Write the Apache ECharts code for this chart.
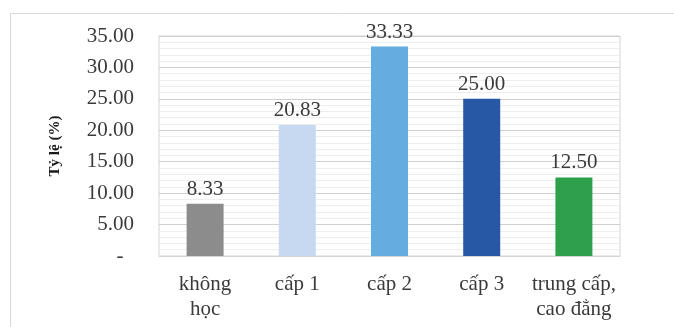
<!DOCTYPE html>
<html>
<head>
<meta charset="utf-8">
<script src="https://cdn.jsdelivr.net/npm/echarts@6/dist/echarts.min.js"></script>
<style>
  html, body { margin: 0; padding: 0; background: #fff; }
  #chart { width: 674px; height: 327px; }
</style>
</head>
<body>
<div id="chart"></div>
<script>
// Education level shares (%)
const categories = ['không\nhọc', 'cấp 1', 'cấp 2', 'cấp 3', 'trung cấp,\ncao đẳng'];
const shares = [8.33, 20.83, 33.33, 25.00, 12.50];
const yTicks = [0, 5, 10, 15, 20, 25, 30, 35];

const barColors = ['#8c8c8c', '#c6d9f0', '#63ade0', '#2658a6', '#2ea04b'];
const serif = '"Liberation Serif", "Times New Roman", serif';
const textColor = '#3a3a3a';

const chart = echarts.init(document.getElementById('chart'), null, { renderer: 'canvas' });

chart.setOption({
  animation: false,
  textStyle: { fontFamily: serif },
  graphic: [{
    type: 'rect',
    shape: { x: 10.5, y: 13.5, width: 700, height: 400 },
    style: { fill: 'none', stroke: '#d9d9d9', lineWidth: 1 },
    silent: true,
    z: -1
  }],
  grid: {
    left: 159, right: 54, top: 36, bottom: 71,
    show: true, borderColor: '#d4d4d4', borderWidth: 1
  },
  xAxis: {
    type: 'category',
    data: categories,
    axisLine: { show: true, lineStyle: { color: '#d4d4d4' } },
    axisTick: { show: false },
    axisLabel: {
      color: textColor, fontFamily: serif, fontSize: 21,
      lineHeight: 25, margin: 16, interval: 0
    }
  },
  yAxis: {
    type: 'value',
    min: yTicks[0],
    max: yTicks[yTicks.length - 1],
    interval: yTicks[1] - yTicks[0],
    name: 'Tỷ lệ (%)',
    nameLocation: 'middle',
    nameRotate: 90,
    nameGap: 96,
    nameTextStyle: { color: '#1a1a1a', fontFamily: serif, fontSize: 15, fontWeight: 'bold' },
    axisLine: { show: false },
    axisTick: { show: false },
    axisLabel: {
      color: textColor, fontFamily: serif, fontSize: 21, margin: 25,
      formatter: v => (v === 0 ? '-  ' : v.toFixed(2))
    },
    splitLine: { show: true, lineStyle: { color: '#d0d0d0', width: 1 } },
    minorTick: { show: false, splitNumber: 5 },
    minorSplitLine: { show: true, lineStyle: { color: '#eeeeee', width: 1 } }
  },
  series: [{
    type: 'bar',
    barWidth: 37,
    data: shares.map((v, i) => ({ value: v, itemStyle: { color: barColors[i] } })),
    label: {
      show: true, position: 'top', distance: 4,
      color: textColor, fontFamily: serif, fontSize: 21,
      formatter: p => p.value.toFixed(2)
    }
  }]
});
</script>
</body>
</html>
